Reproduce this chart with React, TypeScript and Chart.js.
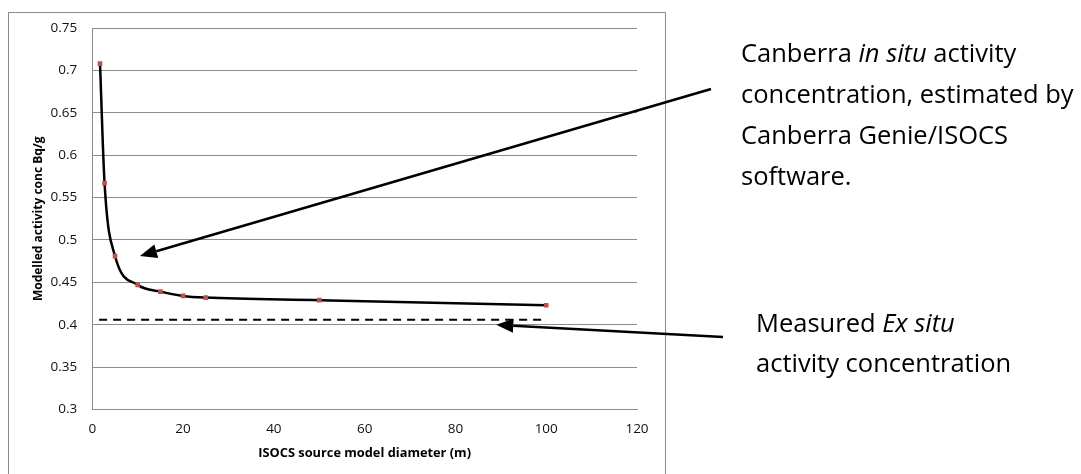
import React, { useEffect, useRef } from "react";
import { Chart, registerables } from "chart.js";

Chart.register(...registerables);

// ---- data ----
const diameters = [1.7, 2.7, 5, 10, 15, 20, 25, 50, 100];
const modelledConc = [0.708, 0.567, 0.481, 0.447, 0.439, 0.434, 0.432, 0.429, 0.423];
const exSituX = [1.5, 100];
const exSituConc = [0.406, 0.406];
const yMin = 0.3;
const yMax = 0.75;
const yStep = 0.05;
const xMin = 0;
const xMax = 120;
const xStep = 20;
const xTitle = "ISOCS source model diameter (m)";
const yTitle = "Modelled activity conc Bq/g";

// annotation text lines: segments [text, italic]
const noteInSitu: [string, boolean][][] = [
  [["Canberra ", false], ["in situ", true], [" activity", false]],
  [["concentration, estimated by", false]],
  [["Canberra Genie/ISOCS", false]],
  [["software.", false]],
];
const noteExSitu: [string, boolean][][] = [
  [["Measured ", false], ["Ex situ", true]],
  [["activity concentration", false]],
];
// arrow tips in data coordinates
const arrowInSituTip = { x: 10.5, y: 0.481 };
const arrowExSituTip = { x: 89, y: 0.4 };

const FONT = "'Open Sans', 'DejaVu Sans', sans-serif";
const GRID = "#8c8c8c";

function drawArrow(ctx: CanvasRenderingContext2D, x0: number, y0: number, x1: number, y1: number) {
  const ang = Math.atan2(y1 - y0, x1 - x0);
  const headLen = 17;
  const headHalf = 7;
  const bx = x1 - headLen * Math.cos(ang);
  const by = y1 - headLen * Math.sin(ang);
  ctx.save();
  ctx.strokeStyle = "#000";
  ctx.fillStyle = "#000";
  ctx.lineWidth = 2.5;
  ctx.beginPath();
  ctx.moveTo(x0, y0);
  ctx.lineTo(bx, by);
  ctx.stroke();
  ctx.beginPath();
  ctx.moveTo(x1, y1);
  ctx.lineTo(bx + headHalf * Math.sin(ang), by - headHalf * Math.cos(ang));
  ctx.lineTo(bx - headHalf * Math.sin(ang), by + headHalf * Math.cos(ang));
  ctx.closePath();
  ctx.fill();
  ctx.restore();
}

function drawNote(ctx: CanvasRenderingContext2D, lines: [string, boolean][][], x: number, y0: number, gap: number, size: number) {
  ctx.save();
  ctx.fillStyle = "#000";
  ctx.textBaseline = "alphabetic";
  ctx.textAlign = "left";
  lines.forEach((segs, i) => {
    let cx = x;
    const y = y0 + i * gap;
    segs.forEach(([t, it]) => {
      ctx.font = `${it ? "italic " : ""}${size}px ${FONT}`;
      ctx.fillText(t, cx, y);
      cx += ctx.measureText(t).width;
    });
  });
  ctx.restore();
}

const overlay = {
  id: "overlay",
  beforeDraw(chart: any) {
    const ctx = chart.ctx as CanvasRenderingContext2D;
    ctx.save();
    ctx.strokeStyle = GRID;
    ctx.lineWidth = 1;
    ctx.strokeRect(8.5, 12.5, 657, 520);
    ctx.restore();
  },
  afterDraw(chart: any) {
    const ctx = chart.ctx as CanvasRenderingContext2D;
    const xs = chart.scales.x;
    const ys = chart.scales.y;
    drawArrow(ctx, 711, 89, xs.getPixelForValue(arrowInSituTip.x), ys.getPixelForValue(arrowInSituTip.y));
    drawArrow(ctx, 723, 337, xs.getPixelForValue(arrowExSituTip.x), ys.getPixelForValue(arrowExSituTip.y));
    drawNote(ctx, noteInSitu, 741, 61.5, 41.3, 25.5);
    drawNote(ctx, noteExSitu, 756, 331.5, 40.8, 25.5);
  },
};

export default function App() {
  const ref = useRef<HTMLCanvasElement>(null);
  useEffect(() => {
    document.body.style.margin = "0";
    const canvas = ref.current!;
    const chart = new Chart(canvas, {
      type: "line",
      data: {
        datasets: [
          {
            label: "Canberra in situ",
            data: diameters.map((d, i) => ({ x: d, y: modelledConc[i] })),
            borderColor: "#000",
            borderWidth: 2.5,
            cubicInterpolationMode: "monotone",
            pointStyle: "rect",
            pointRadius: 3.3,
            pointBorderWidth: 0,
            pointBackgroundColor: "#c0504d",
            pointBorderColor: "#c0504d",
            fill: false,
          },
          {
            label: "Measured ex situ",
            data: exSituX.map((d, i) => ({ x: d, y: exSituConc[i] })),
            borderColor: "#000",
            borderWidth: 2,
            borderDash: [8, 6],
            pointRadius: 0,
            fill: false,
          },
        ],
      },
      options: {
        animation: false,
        responsive: false,
        maintainAspectRatio: false,
        layout: { padding: { left: 8, top: 28, right: 444, bottom: 0 } },
        plugins: { legend: { display: false }, tooltip: { enabled: false } },
        scales: {
          x: {
            type: "linear",
            min: xMin,
            max: xMax,
            ticks: { stepSize: xStep, padding: 12, color: "#111", font: { family: FONT, size: 13.5 }, maxRotation: 0 },
            grid: { display: false, drawTicks: false },
            border: { display: true, color: GRID, width: 1 },
            title: { display: true, text: xTitle, color: "#000", font: { family: FONT, size: 12.8, weight: "bold" }, padding: { top: 0, bottom: 13 } },
            afterFit(scale: any) { scale.height = 64.5; },
          },
          y: {
            type: "linear",
            min: yMin,
            max: yMax,
            ticks: {
              stepSize: yStep,
              padding: 15,
              color: "#111",
              font: { family: FONT, size: 13.5 },
              callback: (v: any) => String(Number(Number(v).toFixed(2))),
            },
            grid: { color: GRID, lineWidth: 1, drawTicks: false },
            border: { display: true, color: GRID, width: 1 },
            title: { display: true, text: yTitle, color: "#000", font: { family: FONT, size: 12, weight: "bold" }, padding: { top: 23, bottom: 0 } },
            afterFit(scale: any) { scale.width = 84.3; },
          },
        },
      },
      plugins: [overlay],
    } as any);
    return () => chart.destroy();
  }, []);
  return (
    <div style={{ position: "fixed", left: 0, top: 0, width: 1081, height: 474, background: "#fff" }}>
      <canvas ref={ref} width={1081} height={474} style={{ display: "block" }} />
    </div>
  );
}
